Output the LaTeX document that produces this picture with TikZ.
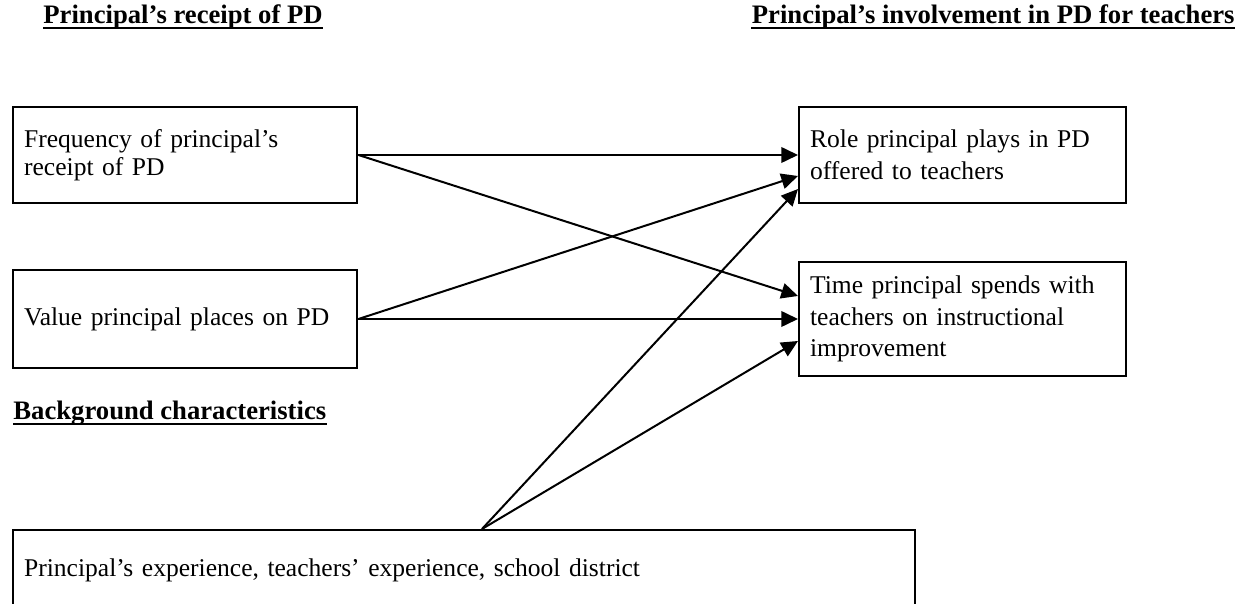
\documentclass[tikz,border=0pt]{standalone}
\usepackage{fontspec}
\setmainfont{Liberation Serif}
\usetikzlibrary{arrows.meta,calc}

\begin{document}
\begin{tikzpicture}[x=0.45pt, y=-0.45pt]

\useasboundingbox (0,0) rectangle (1243,604);

\begin{scope}[every node/.style={font=\bfseries\fontsize{12}{14}\selectfont, inner sep=0pt}]
    \node[anchor=base west] (hrec) at (43,24) {Principal’s receipt of PD};
    \node[anchor=base east] (hinv) at (1235,24) {Principal’s involvement in PD for teachers};
    \node[anchor=base west] (hbg) at (13,420) {Background characteristics};
\end{scope}

% underlines of the headings
\begin{scope}[line width=0.9pt]
    \draw ([yshift=-2pt]hrec.base west) -- ([yshift=-2pt]hrec.base east);
    \draw ([yshift=-2pt]hinv.base west) -- ([yshift=-2pt]hinv.base east);
    \draw ([yshift=-2pt]hbg.base west) -- ([yshift=-2pt]hbg.base east);
\end{scope}

\begin{scope}[every node/.style={draw, line width=0.9pt, anchor=north west, align=left,
        inner xsep=5pt, inner ysep=0pt, font=\fontsize{11.5}{12.6}\selectfont}]
    \node[text width=145pt, minimum height=43.2pt] (freq) at (12,106)
        {Frequency of principal’s\\receipt of PD};
    \node[text width=145pt, minimum height=44.1pt] (value) at (12,269)
        {Value principal places on PD};
    \node[text width=137pt, minimum height=43.2pt, font=\fontsize{11.5}{14.2}\selectfont] (role) at (798,106)
        {Role principal plays in PD\\offered to teachers};
    \node[text width=137pt, minimum height=51.3pt, font=\fontsize{11.5}{14.2}\selectfont] (time) at (798,261)
        {Time principal spends with\\teachers on instructional\\improvement};
    \node[text width=396pt, minimum height=36pt] (bg) at (12,529)
        {Principal’s experience, teachers’ experience, school district};
\end{scope}

\coordinate (bgtop) at ($(bg.north west)+(470,0)$);

\begin{scope}[-{Triangle[length=7.5pt, width=7pt]}, line width=0.9pt]
    \draw (freq.east) -- (role.west);
    \draw (freq.east) -- ($(time.west)+(0,-23)$);
    \draw (value.east) -- ($(role.west)+(0,21)$);
    \draw (value.east) -- (time.west);
    \draw (bgtop) -- ($(role.west)+(0,34)$);
    \draw (bgtop) -- ($(time.west)+(0,22)$);
\end{scope}

\end{tikzpicture}
\end{document}
